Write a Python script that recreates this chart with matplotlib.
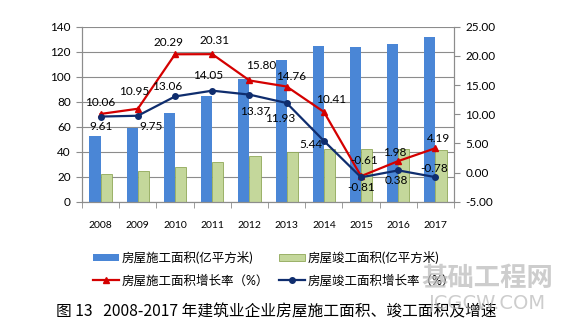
import matplotlib

matplotlib.use("Agg")  # headless
import matplotlib.pyplot as plt
import numpy as np

plt.rcParams["font.family"] = ["Lato", "Noto Sans CJK SC", "DejaVu Sans"]

# Data
years = ["2008", "2009", "2010", "2011", "2012", "2013", "2014", "2015", "2016", "2017"]
construction_area = [53.0, 59.2, 71.0, 85.0, 98.6, 113.3, 124.6, 123.8, 126.2, 131.9]  # 亿平方米
completed_area = [22.6, 24.8, 28.0, 32.0, 36.3, 40.0, 42.0, 42.5, 42.6, 41.4]  # 亿平方米
construction_growth = [10.06, 10.95, 20.29, 20.31, 15.80, 14.76, 10.41, -0.61, 1.98, 4.19]  # %
completed_growth = [9.61, 9.75, 13.06, 14.05, 13.37, 11.93, 5.44, -0.81, 0.38, -0.78]  # %

labels = ["房屋施工面积(亿平方米)", "房屋竣工面积(亿平方米)",
          "房屋施工面积增长率（%）", "房屋竣工面积增长率（%）"]
caption = "图 13   2008-2017 年建筑业企业房屋施工面积、竣工面积及增速"

# label offsets in pixels (dx, dy) relative to each marker
red_offsets = [(0, 11), (-4, 17), (-7, 12), (2, 14), (12, 15), (4, 10), (7, 12), (3, 16), (-4, 9), (3, 10)]
blue_offsets = [(0, -10), (13, -11), (-8, 10), (-4, 15), (6, -17), (-6, -15), (-13, -4), (0, -10), (-2, -10), (-1, 9)]

blue = "#4A86D6"
green_fill = "#C4D79B"
green_edge = "#8FA858"
red = "#D40000"
navy = "#0F2D6E"
grid_c = "#8C8C8C"

fig = plt.figure(figsize=(5.62, 3.27), dpi=100)
ax = fig.add_axes([0.146, 0.383, 0.662, 0.535])
ax2 = ax.twinx()

x = np.arange(len(years))
w = 0.3
b1 = ax.bar(x - w / 2, construction_area, w, color=blue, zorder=2, label=labels[0])
b2 = ax.bar(x + w / 2, completed_area, w, color=green_fill, edgecolor=green_edge,
            linewidth=0.6, zorder=2, label=labels[1])

ax.set_ylim(0, 140)
ax.set_yticks(np.arange(0, 141, 20))
ax.set_xlim(-0.5, len(years) - 0.5)
ax.yaxis.grid(True, color=grid_c, linewidth=0.8, zorder=0)
ax.set_axisbelow(True)
ax.set_xticks(x)
ax.set_xticklabels(years, fontsize=7.5)
ax.set_xticks(np.arange(-0.5, len(years)), minor=True)
ax.tick_params(axis="x", which="major", length=0, pad=14)
ax.tick_params(axis="x", which="minor", length=4, color=grid_c)
ax.tick_params(axis="y", length=4, color=grid_c, labelsize=8.5, pad=4)

(l1,) = ax2.plot(x, construction_growth, color=red, linewidth=1.6, marker="^",
                 markersize=4.5, label=labels[2], zorder=3)
(l2,) = ax2.plot(x, completed_growth, color=navy, linewidth=1.6, marker="o",
                 markersize=4, label=labels[3], zorder=3)
ax2.set_ylim(-5, 25)
ax2.set_yticks(np.arange(-5, 26, 5))
ax2.set_yticklabels([f"{v:.2f}" for v in np.arange(-5, 26, 5)])
ax2.tick_params(axis="y", length=4, color=grid_c, labelsize=8.5, pad=4)

for a in (ax, ax2):
    a.spines["top"].set_visible(False)
    for s in ("left", "right", "bottom"):
        a.spines[s].set_color(grid_c)
        a.spines[s].set_linewidth(0.8)

for xi, v, (dx, dy) in zip(x, construction_growth, red_offsets):
    ax2.annotate(f"{v:.2f}", (xi, v), xytext=(dx, dy), textcoords="offset pixels",
                 ha="center", va="center", fontsize=8.5, zorder=5)
for xi, v, (dx, dy) in zip(x, completed_growth, blue_offsets):
    ax2.annotate(f"{v:.2f}", (xi, v), xytext=(dx, dy), textcoords="offset pixels",
                 ha="center", va="center", fontsize=8.5, zorder=5)

fig.legend([b1, l1, b2, l2], [labels[0], labels[2], labels[1], labels[3]],
           ncol=2, loc="center left", bbox_to_anchor=(0.145, 0.178),
           frameon=False, fontsize=9, handlelength=2.1, handleheight=0.5,
           handletextpad=0.2, columnspacing=0.8, labelspacing=0.75)

fig.text(0.492, 0.046, caption, ha="center", va="center", fontsize=11.3,
         family=["Noto Sans CJK SC", "DejaVu Sans"])

# watermark
fig.text(0.867, 0.147, "基础工程网", ha="center", va="center", fontsize=19,
         color="#B8B8B8", alpha=0.7, weight="bold", family=["Noto Sans CJK SC"], zorder=10)
fig.text(0.867, 0.073, "JCGCW.COM", ha="center", va="center", fontsize=14,
         color="#B8B8B8", alpha=0.7, family=["DejaVu Sans"], zorder=10)

fig.savefig("out.png", dpi=100)
